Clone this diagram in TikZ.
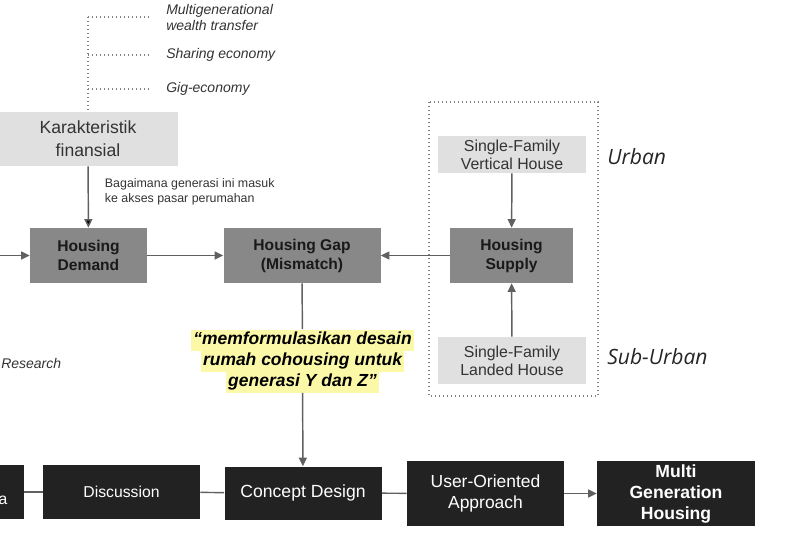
\documentclass[tikz,border=0pt]{standalone}
\usepackage{fontspec}
\setmainfont{Liberation Sans}
\newfontfamily\zonefont{Open Sans}
\usetikzlibrary{arrows.meta}
\definecolor{lightbox}{HTML}{E0E0E0}
\definecolor{midbox}{HTML}{888888}
\definecolor{darkbox}{HTML}{222222}
\definecolor{linegray}{HTML}{606060}
\definecolor{hlyellow}{HTML}{FBF8A8}
\setlength{\fboxsep}{0pt}
\newcommand{\hlline}[1]{\colorbox{hlyellow}{\strut\hspace{1.5pt}#1\hspace{1.5pt}}}
\tikzstyle{light}=[fill=lightbox,text=black!80,align=center,inner sep=0pt]
\tikzstyle{mid}=[fill=midbox,text=black!90,font=\bfseries\fontsize{11.7}{14.25}\selectfont,align=center,inner sep=0pt,minimum height=41.25pt]
\tikzstyle{dark}=[fill=darkbox,text=white,align=center,inner sep=0pt,minimum width=117.75pt]
\tikzstyle{note}=[text=black!80,font=\itshape\fontsize{10.5}{12}\selectfont,align=left,inner sep=0pt]
\tikzstyle{zone}=[text=black!85,font=\zonefont\itshape\fontsize{15.8}{18}\selectfont,inner sep=0pt]
\tikzstyle{link}=[draw=linegray,line width=1.1pt]
\tikzstyle{dots}=[draw=gray,line width=1pt,dash pattern=on 1pt off 2pt]

\begin{document}
\begin{tikzpicture}[x=0.75pt,y=-0.75pt,>={Triangle[length=6.5pt,width=6pt]}]
\useasboundingbox (0,0) rectangle (793,539);
\clip (0,0) rectangle (793,539);

\node[light,minimum width=135pt,minimum height=40.5pt,font=\fontsize{13.2}{17.25}\selectfont] (kar) at (88,139) {Karakteristik\\finansial};
\node[mid,minimum width=87.75pt] (dem) at (88.5,255.5) {Housing\\Demand};
\node[mid,minimum width=117.75pt] (gap) at (302,255.5) {Housing Gap\\(Mismatch)};
\node[mid,minimum width=92.25pt] (sup) at (511.5,255.5) {Housing\\Supply};
\node[light,minimum width=111pt,minimum height=27.75pt,font=\fontsize{11.9}{13.5}\selectfont] (vert) at (512,154.5) {Single-Family\\Vertical House};
\node[light,minimum width=111pt,minimum height=35.25pt,font=\fontsize{11.9}{13.5}\selectfont] (land) at (512,360.5) {Single-Family\\Landed House};
\draw[dots] (429,102) rectangle (598,396);
\node[zone,anchor=west] (urban) at (607,157) {Urban};
\node[zone,anchor=west] (suburban) at (607,357) {Sub-Urban};

\coordinate (t1) at (88,17);
\coordinate (t2) at (88,55);
\coordinate (t3) at (88,89);
\node[note,anchor=west] (wealth) at (166,17) {Multigenerational\\wealth transfer};
\node[note,anchor=west] (share) at (166,55) {Sharing economy};
\node[note,anchor=west] (gig) at (166,89) {Gig-economy};
\node[note,anchor=west] (res) at (1,363) {Research};

\node[inner sep=0pt,align=center,font=\bfseries\itshape\fontsize{13.1}{15.75}\selectfont] (quote) at (302.5,361) {\hlline{“memformulasikan desain}\\\hlline{rumah cohousing untuk}\\\hlline{generasi Y dan Z”}};

\node[dark,minimum height=40.5pt] (prev) at (-54.5,492) {};
\node[text=white,inner sep=0pt,font=\fontsize{11.8}{14}\selectfont] (preva) at (3,500) {a};
\node[dark,minimum height=40.5pt,font=\fontsize{11.8}{14}\selectfont] (disc) at (121.5,492) {Discussion};
\node[dark,minimum height=39.75pt,font=\fontsize{13.2}{15.75}\selectfont] (con) at (303,493) {Concept Design};
\node[dark,minimum height=48.75pt,font=\fontsize{13.1}{15.75}\selectfont] (user) at (485.5,493.5) {User-Oriented\\Approach};
\node[dark,minimum width=118.5pt,minimum height=48.75pt,font=\bfseries\fontsize{13.2}{15.75}\selectfont] (multi) at (676,493.5) {Multi\\Generation\\Housing};

\coordinate (inL) at (0,255.5);
\draw[dots] (t1) -- (kar);
\draw[dots,shorten >=12pt] (t1) -- (wealth);
\draw[dots,shorten >=12pt] (t2) -- (share);
\draw[dots,shorten >=12pt] (t3) -- (gig);
\draw[link,->] (kar) edge node[note,font=\fontsize{9.3}{11.25}\selectfont,anchor=west,pos=0.42,xshift=12pt] {Bagaimana generasi ini masuk\\ke akses pasar perumahan} (dem);
\draw[link,->] (inL) -- (dem);
\draw[link,->] (dem) -- (gap);
\draw[link,->] (sup) -- (gap);
\draw[link,->] (vert) -- (sup);
\draw[link,->] (land) -- (sup);
\draw[link] (gap) -- (quote);
\draw[link,->] (quote) -- (con);
\draw[link] (prev) -- (disc);
\draw[link] (disc) -- (con);
\draw[link] (con) -- (user);
\draw[link,->] (user) -- (multi);
\end{tikzpicture}
\end{document}
